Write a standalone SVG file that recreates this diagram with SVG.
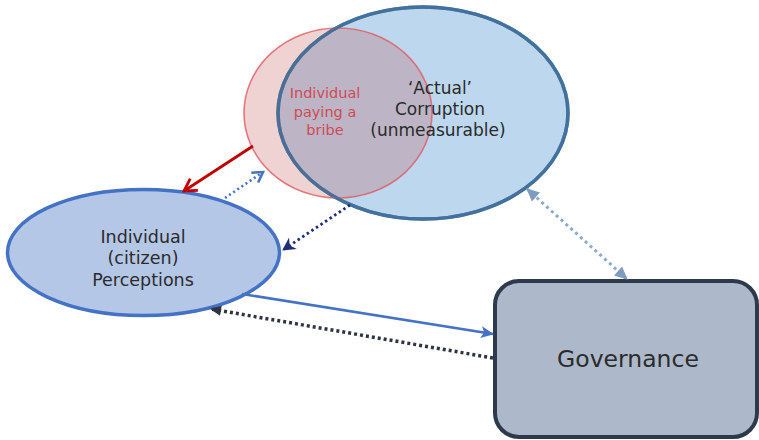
<svg xmlns="http://www.w3.org/2000/svg" width="759" height="440" viewBox="0 0 759 440">
<style>
.lbl{font-family:"DejaVu Sans","Liberation Sans",sans-serif;fill:#2b2b2b;text-anchor:middle}
.red{fill:#d04a55}
</style>
<defs>
<marker id="mRed" markerUnits="userSpaceOnUse" markerWidth="18" markerHeight="18" viewBox="0 0 18 18" refX="15" refY="9" orient="auto">
<path d="M3,2 L15,9 L3,16" fill="none" stroke="#c00000" stroke-width="2.8" stroke-linejoin="miter"/>
</marker>
<marker id="mBlueOpen" markerUnits="userSpaceOnUse" markerWidth="16" markerHeight="16" viewBox="0 0 16 16" refX="13" refY="8" orient="auto">
<path d="M3,2 L13,8 L3,14" fill="none" stroke="#4472c4" stroke-width="2.5"/>
</marker>
<marker id="mNavy" markerUnits="userSpaceOnUse" markerWidth="16" markerHeight="16" viewBox="0 0 16 16" refX="13" refY="8" orient="auto">
<path d="M1,1 L14,8 L1,15 L5,8 Z" fill="#1f2d7a"/>
</marker>
<marker id="mGray" markerUnits="userSpaceOnUse" markerWidth="16" markerHeight="16" viewBox="0 0 16 16" refX="13" refY="8" orient="auto-start-reverse">
<path d="M1,2 L14,8 L1,14 Z" fill="#7f9cc0"/>
</marker>
<marker id="mBlue" markerUnits="userSpaceOnUse" markerWidth="16" markerHeight="16" viewBox="0 0 16 16" refX="13" refY="8" orient="auto">
<path d="M1,2 L14,8 L1,14 L4,8 Z" fill="#4472c4"/>
</marker>
<marker id="mDark" markerUnits="userSpaceOnUse" markerWidth="14" markerHeight="14" viewBox="0 0 14 14" refX="11" refY="7" orient="auto">
<path d="M1,2 L12,7 L1,12 Z" fill="#2f3440"/>
</marker>
</defs>
<rect width="759" height="440" fill="#ffffff"/>
<g id="actual-corruption">
<ellipse cx="423" cy="113" rx="145" ry="106" fill="#bdd7ee" stroke="#41719c" stroke-width="3.5"/>
</g>
<g id="bribe">
<ellipse cx="338" cy="113" rx="94" ry="85" fill="#c0504d" fill-opacity="0.25" stroke="#e05a60" stroke-opacity="0.8" stroke-width="1.6"/>
<ellipse cx="423" cy="113" rx="145" ry="106" fill="none" stroke="#41719c" stroke-opacity="0.75" stroke-width="3.5"/>
<text class="lbl red" font-size="14.5"><tspan x="325" y="98">Individual</tspan><tspan x="325" y="117">paying a</tspan><tspan x="325" y="135">bribe</tspan></text>
</g>
<g id="actual-label">
<text class="lbl" font-size="17"><tspan x="440" y="94">‘Actual’</tspan><tspan x="440" y="115">Corruption</tspan><tspan x="438" y="136">(unmeasurable)</tspan></text>
</g>
<g id="perceptions">
<ellipse cx="143.5" cy="252.5" rx="136" ry="63" fill="#b4c7e7" stroke="#4472c4" stroke-width="3.5"/>
<text class="lbl" font-size="17.5"><tspan x="143" y="243">Individual</tspan><tspan x="143" y="264">(citizen)</tspan><tspan x="143" y="286">Perceptions</tspan></text>
</g>
<g id="governance">
<rect x="495" y="281" width="262" height="156" rx="24" ry="24" fill="#adb9ca" stroke="#2d3a4b" stroke-width="4"/>
<text class="lbl" font-size="23.5" x="628" y="367">Governance</text>
</g>
<g id="connectors" fill="none">
<line x1="253" y1="146" x2="184" y2="191" stroke="#c00000" stroke-width="2.8" marker-end="url(#mRed)"/>
<line x1="225" y1="198" x2="263" y2="172" stroke="#4472c4" stroke-width="2.6" stroke-dasharray="2,3" marker-end="url(#mBlueOpen)"/>
<line x1="350" y1="205" x2="283" y2="250" stroke="#1f2d7a" stroke-width="2.8" stroke-dasharray="2.5,3" marker-end="url(#mNavy)"/>
<line x1="527" y1="189" x2="627" y2="279" stroke="#8eaacb" stroke-width="3" stroke-dasharray="3,3.5" marker-start="url(#mGray)" marker-end="url(#mGray)"/>
<line x1="242" y1="294" x2="493" y2="334" stroke="#4472c4" stroke-width="2.6" marker-end="url(#mBlue)"/>
<line x1="493" y1="358" x2="211" y2="309" stroke="#2f3440" stroke-width="3.5" stroke-dasharray="3,3" marker-end="url(#mDark)"/>
</g>
</svg>
